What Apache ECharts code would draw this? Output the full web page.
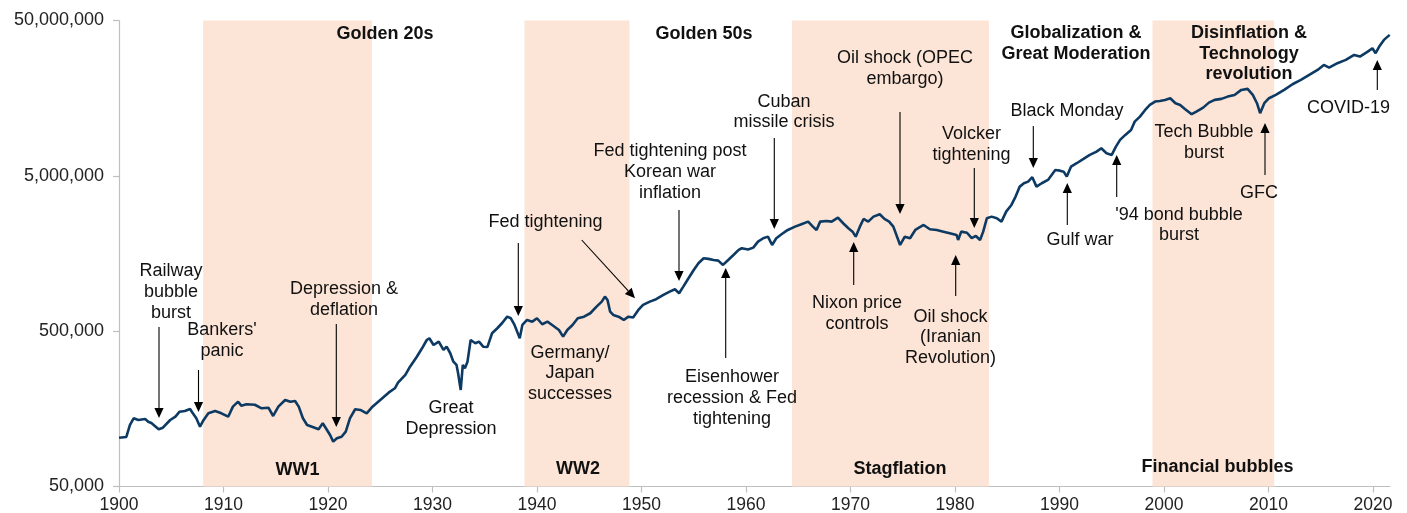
<!DOCTYPE html>
<html>
<head>
<meta charset="utf-8">
<script src="https://cdn.jsdelivr.net/npm/echarts@6/dist/echarts.min.js"></script>
<style>
  html, body { margin: 0; padding: 0; background: #ffffff; }
  #chart { width: 1407px; height: 513px; }
</style>
</head>
<body>
<div id="chart"></div>
<script>
// Growth of an investment, 1900-2021 (log scale)
const years = [
  1900.0,1900.7,1901.05,1901.4,1901.85,1902.5,1902.8,1903.1,1903.4,1903.8,1904.2,1904.9,1905.4,1905.8,1906.3,1906.8,1907.0,1907.4,1907.75,1908.1,1908.55,1909.2,1909.8,
  1910.45,1910.9,1911.4,1911.7,1912.2,1913.0,1913.65,1914.3,1914.75,1915.25,1915.9,1916.4,1916.85,1917.2,1917.6,1918.0,1918.6,1919.1,1919.5,1919.8,
  1920.2,1920.5,1920.85,1921.3,1921.7,1922.1,1922.6,1923.1,1923.7,1924.2,1925.0,1925.8,1926.4,1926.7,1927.4,1927.85,1928.5,1929.0,1929.45,1929.7,
  1930.1,1930.6,1931.05,1931.35,1931.7,1932.0,1932.3,1932.45,1932.7,1932.9,1933.1,1933.35,1933.65,1934.1,1934.45,1934.85,1935.25,1935.7,1936.2,1936.65,1937.15,1937.5,1937.85,1938.1,1938.35,1938.6,1939.05,1939.55,
  1940.0,1940.5,1941.0,1941.45,1942.1,1942.5,1942.9,1943.4,1943.9,1944.5,1945.1,1945.7,1946.2,1946.5,1946.75,1947.0,1947.3,1947.8,1948.3,1948.75,1949.2,1949.7,
  1950.15,1950.8,1951.4,1952.1,1952.7,1953.2,1953.6,1954.0,1954.5,1955.0,1955.45,1955.95,1956.4,1956.9,1957.35,1957.8,1958.3,1958.8,1959.3,1959.6,
  1960.2,1960.7,1961.15,1961.65,1962.1,1962.5,1962.9,1963.4,1964.0,1964.7,1965.3,1965.95,1966.4,1966.75,1967.1,1967.7,1968.2,1968.8,1969.3,1969.8,
  1970.2,1970.5,1970.9,1971.25,1971.7,1972.2,1972.8,1973.25,1973.7,1974.1,1974.75,1975.2,1975.7,1976.2,1977.0,1977.6,1978.25,1978.9,1979.5,
  1980.15,1980.3,1980.6,1981.15,1981.6,1982.0,1982.4,1982.7,1983.05,1983.5,1984.0,1984.45,1984.9,1985.4,1985.8,1986.2,1986.6,1987.0,1987.4,1987.8,1988.3,1988.9,1989.6,
  1990.05,1990.4,1990.7,1991.1,1991.65,1992.3,1992.9,1993.55,1994.0,1994.5,1995.0,1995.4,1995.8,1996.3,1996.85,1997.2,1997.7,1998.2,1998.65,1999.15,1999.6,
  2000.1,2000.6,2001.1,2001.55,2002.0,2002.65,2003.1,2003.75,2004.3,2004.85,2005.5,2006.1,2006.75,2007.4,2008.0,2008.5,2008.9,2009.2,2009.6,
  2010.05,2010.7,2011.5,2012.3,2013.1,2013.9,2014.7,2015.3,2015.8,2016.6,2017.4,2018.2,2018.75,2019.5,2019.95,
  2020.25,2020.6,2021.05,2021.6
];
const values = [
  103100,104200,124500,137400,134000,136000,130700,128200,123200,116800,119600,134000,140700,151600,153200,157800,150300,137400,121400,134000,148000,153200,148000,
  140700,163300,175800,165700,169200,168000,159400,160800,142200,163300,180300,175800,177700,163300,137400,124500,120300,116800,127600,118500,
  107300,97200,102200,104600,112700,137400,157100,155500,148000,161800,180300,200900,214400,233000,261200,295400,342500,388000,438700,450000,
  407400,427900,378400,397300,360400,318100,303000,267900,209100,303000,288500,318100,438700,417900,427900,397300,395000,484700,522000,562300,620000,605400,548300,496500,450000,548300,590300,575700,
  605400,554000,575700,548300,509100,460800,509100,548300,605400,620000,652000,719300,774500,834300,794300,667600,635600,620000,590300,620000,612000,684600,
  737500,774500,802600,855400,898200,930600,877000,967200,1095500,1239000,1368000,1474000,1460000,1437000,1422000,1335000,1437000,1547000,1667000,1709000,
  1680000,1725000,1885000,1983000,2030000,1795000,1983000,2104000,2242000,2354000,2440000,2536000,2354000,2242000,2536000,2562000,2536000,2690000,2476000,2299000,
  2186000,2030000,2354000,2639000,2536000,2731000,2830000,2639000,2536000,2354000,1795000,2030000,1983000,2242000,2414000,2266000,2242000,2186000,2135000,
  2081000,1933000,2186000,2150000,1983000,2051000,1933000,2186000,2667000,2731000,2667000,2536000,2941000,3248000,3674000,4261000,4481000,4588000,4898000,4261000,4481000,4705000,5458000,
  5400000,5321000,4942000,5731000,6027000,6424000,6817000,7158000,7528000,6990000,6817000,7709000,8516000,9171000,9876000,11170000,12030000,13280000,14300000,15030000,15180000,
  15410000,15800000,14670000,14300000,13480000,12460000,12950000,13740000,14800000,15410000,15640000,16180000,16590000,17870000,18140000,16590000,14670000,12650000,14670000,
  15800000,16590000,17870000,19440000,20730000,22330000,24040000,25890000,24870000,26550000,27880000,30030000,29280000,31530000,33160000,
  30790000,33960000,37510000,40400000
];
const yTickValues = [50000, 500000, 5000000, 50000000];
const xTickValues = [1900, 1910, 1920, 1930, 1940, 1950, 1960, 1970, 1980, 1990, 2000, 2010, 2020];
const eraStart = [1908.05, 1938.8, 1964.4, 1998.9];
const eraEnd = [1924.2, 1948.85, 1983.25, 2010.55];

const FONT = '"Liberation Sans", Arial, sans-serif';
const TXT = '#111111';

// Text annotations: [centre x, centre y, text, bold]
const notes = [
  [385, 34, 'Golden 20s', true],
  [704, 34, 'Golden 50s', true],
  [1076, 43.5, 'Globalization &\nGreat Moderation', true],
  [1249, 53.8, 'Disinflation &\nTechnology\nrevolution', true],
  [297.5, 470, 'WW1', true],
  [578, 469.5, 'WW2', true],
  [900, 469.5, 'Stagflation', true],
  [1217.5, 467, 'Financial bubbles', true],
  [171, 292, 'Railway\nbubble\nburst', false],
  [222, 340.5, "Bankers'\npanic", false],
  [344, 299.5, 'Depression &\ndeflation', false],
  [451, 418.5, 'Great\nDepression', false],
  [545.5, 222, 'Fed tightening', false],
  [570, 373.5, 'Germany/\nJapan\nsuccesses', false],
  [670, 172, 'Fed tightening post\nKorean war\ninflation', false],
  [732, 398, 'Eisenhower\nrecession & Fed\ntightening', false],
  [784, 112, 'Cuban\nmissile crisis', false],
  [905, 68.5, 'Oil shock (OPEC\nembargo)', false],
  [857, 313.5, 'Nixon price\ncontrols', false],
  [950.5, 337.5, 'Oil shock\n(Iranian\nRevolution)', false],
  [971.5, 144.5, 'Volcker\ntightening', false],
  [1067, 111, 'Black Monday', false],
  [1080, 240, 'Gulf war', false],
  [1179, 225, "'94 bond bubble\nburst", false],
  [1204, 142.5, 'Tech Bubble\nburst', false],
  [1259, 193, 'GFC', false],
  [1348.5, 108, 'COVID-19', false]
];

// Pointer arrows: [from x, from y, tip x, tip y]
const pointers = [
  [159, 327, 159, 418],
  [198.5, 370, 198.5, 412],
  [336.3, 324, 336.3, 427],
  [518.3, 243, 518.3, 316],
  [581.7, 240, 635, 298.3],
  [679, 210, 679, 281],
  [725.7, 358, 725.7, 268],
  [774.3, 138, 774.3, 229],
  [900, 112, 900, 214],
  [853.7, 285, 853.7, 242],
  [955.7, 296, 955.7, 255],
  [974.3, 168, 974.3, 228],
  [1033.3, 126, 1033.3, 168],
  [1067.3, 225, 1067.3, 183],
  [1116.7, 197, 1116.7, 155],
  [1265, 175, 1265, 123],
  [1377.3, 90, 1377.3, 60]
];

function fmtNumber(v) {
  return String(Math.round(v)).replace(/\B(?=(\d{3})+(?!\d))/g, ',');
}

function arrowElements(p) {
  const [x1, y1, x2, y2] = p;
  const dx = x2 - x1, dy = y2 - y1;
  const len = Math.hypot(dx, dy);
  const ux = dx / len, uy = dy / len;
  const hl = 10, hw = 4.6;
  const bx = x2 - ux * hl, by = y2 - uy * hl;
  return [
    { type: 'line', z: 100, silent: true,
      shape: { x1: x1, y1: y1, x2: bx, y2: by },
      style: { stroke: '#000', lineWidth: 1.1 } },
    { type: 'polygon', z: 100, silent: true,
      shape: { points: [[x2, y2], [bx - uy * hw, by + ux * hw], [bx + uy * hw, by - ux * hw]] },
      style: { fill: '#000' } }
  ];
}

const graphics = [];
notes.forEach(function (n) {
  graphics.push({
    type: 'text', z: 100, silent: true, x: n[0], y: n[1],
    style: {
      text: n[2], fill: TXT,
      font: (n[3] ? 'bold ' : '') + '18px ' + FONT,
      align: 'center', verticalAlign: 'middle',
      textAlign: 'center', textVerticalAlign: 'middle',
      lineHeight: n[3] ? 20.5 : 20.8
    }
  });
});
pointers.forEach(function (p) { arrowElements(p).forEach(function (g) { graphics.push(g); }); });

const seriesData = years.map(function (y, i) { return [y, values[i]]; });
const bands = eraStart.map(function (s, i) { return [{ xAxis: s }, { xAxis: eraEnd[i] }]; });

const chart = echarts.init(document.getElementById('chart'), null, { renderer: 'canvas' });
chart.setOption({
  animation: false,
  backgroundColor: '#ffffff',
  grid: { left: 119, right: 17, top: 20.5, bottom: 26.5, containLabel: false, outerBoundsMode: 'none' },
  xAxis: {
    type: 'value', min: 1900, max: 2021.63, interval: 10,
    axisLine: { show: true, onZero: false, lineStyle: { color: '#bfbfbf', width: 1.2 } },
    axisTick: { show: true, length: 6, customValues: xTickValues, lineStyle: { color: '#bfbfbf', width: 1.2 } },
    axisLabel: { customValues: xTickValues, fontSize: 17.5, fontFamily: FONT, color: '#222', margin: 10,
      formatter: function (v) { return String(Math.round(v)); } },
    splitLine: { show: false }
  },
  yAxis: {
    type: 'log', logBase: 10, min: 50000, max: 50000000,
    axisLine: { show: true, onZero: false, lineStyle: { color: '#bfbfbf', width: 1.2 } },
    axisTick: { show: true, length: 6, customValues: yTickValues, lineStyle: { color: '#bfbfbf', width: 1.2 } },
    axisLabel: { customValues: yTickValues, fontSize: 18, fontFamily: FONT, color: '#222', margin: 15,
      formatter: fmtNumber },
    splitLine: { show: false },
    minorTick: { show: false }
  },
  series: [{
    type: 'line',
    data: seriesData,
    showSymbol: false,
    symbol: 'none',
    lineStyle: { color: '#0d3a63', width: 2.6 },
    z: 5,
    markArea: {
      silent: true,
      itemStyle: { color: '#fce4d6' },
      data: bands
    }
  }],
  graphic: graphics
});
</script>
</body>
</html>
